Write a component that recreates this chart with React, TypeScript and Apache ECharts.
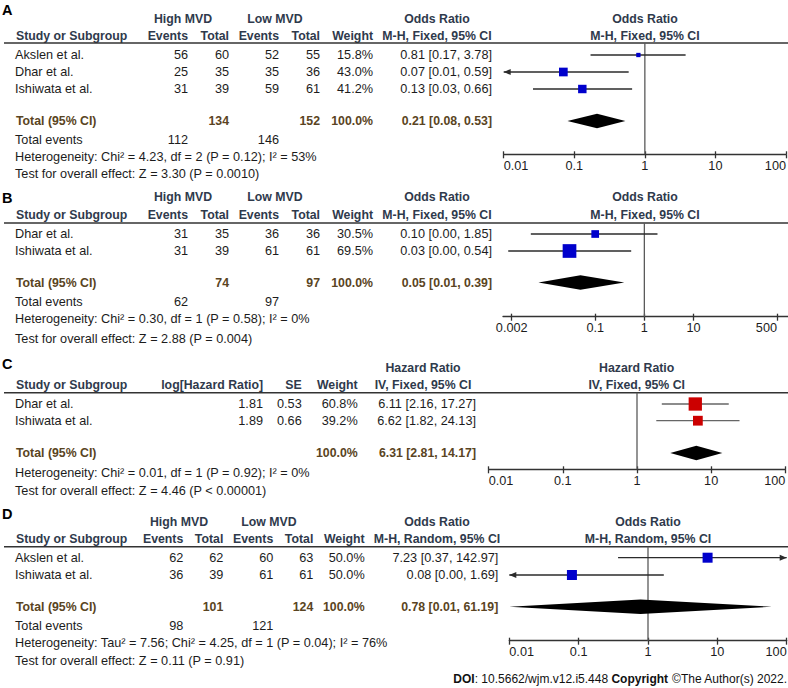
import React, { useEffect, useRef } from "react";
import * as echarts from "echarts";

// ================= DATA =================
// Panel A — Odds Ratio, M-H Fixed
const studiesA = ["Akslen et al.", "Dhar et al.", "Ishiwata et al."];
const highEventsA = [56, 25, 31];
const highTotalA = [60, 35, 39];
const lowEventsA = [52, 35, 59];
const lowTotalA = [55, 36, 61];
const weightA = [15.8, 43.0, 41.2];
const ratioA = [0.81, 0.07, 0.13];
const lowerA = [0.17, 0.008, 0.026];
const upperA = [3.78, 0.59, 0.66];
const pooledA = [0.21, 0.08, 0.53];
const totalsA = [134, 152];
const totalEventsA = [112, 146];
const heterogeneityA = "Heterogeneity: Chi² = 4.23, df = 2 (P = 0.12); I² = 53%";
const overallA = "Test for overall effect: Z = 3.30 (P = 0.0010)";
const ticksA = [0.01, 0.1, 1, 10, 100];

// Panel B — Odds Ratio, M-H Fixed
const studiesB = ["Dhar et al.", "Ishiwata et al."];
const highEventsB = [31, 31];
const highTotalB = [35, 39];
const lowEventsB = [36, 61];
const lowTotalB = [36, 61];
const weightB = [30.5, 69.5];
const ratioB = [0.1, 0.03];
const lowerB = [0.0049, 0.0017];
const upperB = [1.85, 0.54];
const pooledB = [0.05, 0.007, 0.39];
const totalsB = [74, 97];
const totalEventsB = [62, 97];
const heterogeneityB = "Heterogeneity: Chi² = 0.30, df = 1 (P = 0.58); I² = 0%";
const overallB = "Test for overall effect: Z = 2.88 (P = 0.004)";
const ticksB = [0.002, 0.1, 1, 10, 500];

// Panel C — Hazard Ratio, IV Fixed
const studiesC = ["Dhar et al.", "Ishiwata et al."];
const logHrC = [1.81, 1.89];
const seC = [0.53, 0.66];
const weightC = [60.8, 39.2];
const ratioC = [6.11, 6.62];
const lowerC = [2.16, 1.82];
const upperC = [17.27, 24.13];
const pooledC = [6.31, 2.81, 14.17];
const heterogeneityC = "Heterogeneity: Chi² = 0.01, df = 1 (P = 0.92); I² = 0%";
const overallC = "Test for overall effect: Z = 4.46 (P < 0.00001)";
const ticksC = [0.01, 0.1, 1, 10, 100];

// Panel D — Odds Ratio, M-H Random
const studiesD = ["Akslen et al.", "Ishiwata et al."];
const highEventsD = [62, 36];
const highTotalD = [62, 39];
const lowEventsD = [60, 61];
const lowTotalD = [63, 61];
const weightD = [50.0, 50.0];
const ratioD = [7.23, 0.08];
const lowerD = [0.37, 0.004];
const upperD = [142.97, 1.69];
const pooledD = [0.78, 0.01, 61.19];
const totalsD = [101, 124];
const totalEventsD = [98, 121];
const heterogeneityD = "Heterogeneity: Tau² = 7.56; Chi² = 4.25, df = 1 (P = 0.04); I² = 76%";
const overallD = "Test for overall effect: Z = 0.11 (P = 0.91)";
const ticksD = [0.01, 0.1, 1, 10, 100];

// ================= STYLE / LAYOUT =================
const FONT = '"Liberation Sans", Arial, Helvetica, sans-serif';
const TEXT = "#1c1c1c";
const HEAD = "#2f3a4c";
const TOT = "#5a4422";
const FS = 12.7;
const FB = 12.3;

const layoutA: any = {
  letter: "A", letterY: 10, h1Y: 19, h2Y: 36, ruleY: 43, rowY: [55, 72, 89], totalY: 121, eventsY: 140,
  hetY: 157, testY: 174, axisY: 154.3, tickPx: [503.7, 786], lineFrom: 503.7, lineTo: 786,
  cols: [188, 229, 279, 320, 373], ciRight: 492, cHigh: 183, cLow: 275, cCI: 437, cPlot: 645,
  sq: 8.7, sqColor: "#0000cc", ciColor: "#2b2b2b", minAlign: "left",
  measure: "Odds Ratio", method: "M-H, Fixed, 95% CI",
};
const layoutB: any = {
  letter: "B", letterY: 197.5, h1Y: 197, h2Y: 215, ruleY: 223, rowY: [234, 251], totalY: 282.5, eventsY: 302,
  hetY: 319, testY: 338.5, axisY: 316.7, tickPx: [511.7, 777], lineFrom: 503, lineTo: 788,
  cols: [188, 229, 279, 320, 373], ciRight: 492, cHigh: 183, cLow: 275, cCI: 437, cPlot: 645,
  sq: 13.7, sqColor: "#0000cc", ciColor: "#2b2b2b", minAlign: "center",
  measure: "Odds Ratio", method: "M-H, Fixed, 95% CI",
};
const layoutC: any = {
  letter: "C", letterY: 363.5, h1Y: 367.7, h2Y: 385, ruleY: 392.7, rowY: [404, 420.7], totalY: 453,
  hetY: 473, testY: 491, axisY: 469.3, tickPx: [488.7, 785.3], lineFrom: 488.7, lineTo: 785.3,
  cols: [263, 301.7, 357.7], ciRight: 476, cCI: 423, cPlot: 636.7,
  sq: 13.3, sqColor: "#cc0000", ciColor: "#666666", minAlign: "left",
  measure: "Hazard Ratio", method: "IV, Fixed, 95% CI",
};
const layoutD: any = {
  letter: "D", letterY: 513.5, h1Y: 521.7, h2Y: 539, ruleY: 546.7, rowY: [557.7, 575], totalY: 606.7, eventsY: 626,
  hetY: 643.3, testY: 660.7, axisY: 640.7, tickPx: [509.3, 786.7], lineFrom: 509.3, lineTo: 786.7,
  cols: [183.3, 223.3, 273.3, 313.3, 364.7], ciRight: 498.3, cHigh: 179, cLow: 269, cCI: 437, cPlot: 648,
  sq: 10, sqColor: "#0000cc", ciColor: "#2b2b2b", minAlign: "left",
  measure: "Odds Ratio", method: "M-H, Random, 95% CI",
};

const f2 = (v: number) => v.toFixed(2);
const ciText = (r: number, lo: number, hi: number) => `${f2(r)} [${f2(lo)}, ${f2(hi)}]`;
const pct = (w: number) => `${w.toFixed(1)}%`;

function T(x: number, y: number, text: string, align = "left", weight = "normal", color = TEXT, size = FS): any {
  return {
    type: "text", x, y, silent: true,
    style: {
      text, fill: color, fontFamily: FONT, fontSize: size, fontWeight: weight,
      textAlign: align, align, textVerticalAlign: "middle", verticalAlign: "middle",
    },
  };
}
function rule(y: number): any {
  return { type: "line", silent: true, shape: { x1: 4, y1: y, x2: 788, y2: y }, style: { stroke: "#333", lineWidth: 1.5 } };
}

function orPanelText(L: any, d: any): any[] {
  const e: any[] = [];
  e.push(T(2, L.letterY, L.letter, "left", "bold", "#000", 14.5));
  e.push(T(L.cHigh, L.h1Y, "High MVD", "center", "bold", HEAD, FB));
  e.push(T(L.cLow, L.h1Y, "Low MVD", "center", "bold", HEAD, FB));
  e.push(T(L.cCI, L.h1Y, L.measure, "center", "bold", HEAD, FB));
  e.push(T(L.cPlot, L.h1Y, L.measure, "center", "bold", HEAD, FB));
  e.push(T(16, L.h2Y, "Study or Subgroup", "left", "bold", HEAD, FB));
  ["Events", "Total", "Events", "Total", "Weight"].forEach((h, i) => e.push(T(L.cols[i], L.h2Y, h, "right", "bold", HEAD, FB)));
  e.push(T(L.cCI, L.h2Y, L.method, "center", "bold", HEAD, FB));
  e.push(T(L.cPlot, L.h2Y, L.method, "center", "bold", HEAD, FB));
  e.push(rule(L.ruleY));
  d.studies.forEach((s: string, i: number) => {
    const y = L.rowY[i];
    e.push(T(15, y, s));
    e.push(T(L.cols[0], y, String(d.he[i]), "right"));
    e.push(T(L.cols[1], y, String(d.ht[i]), "right"));
    e.push(T(L.cols[2], y, String(d.le[i]), "right"));
    e.push(T(L.cols[3], y, String(d.lt[i]), "right"));
    e.push(T(L.cols[4], y, pct(d.w[i]), "right"));
    e.push(T(L.ciRight, y, ciText(d.r[i], d.lo[i], d.hi[i]), "right"));
  });
  e.push(T(16, L.totalY, "Total (95% CI)", "left", "bold", TOT, FB));
  e.push(T(L.cols[1], L.totalY, String(d.totals[0]), "right", "bold", TOT, FB));
  e.push(T(L.cols[3], L.totalY, String(d.totals[1]), "right", "bold", TOT, FB));
  e.push(T(L.cols[4], L.totalY, "100.0%", "right", "bold", TOT, FB));
  e.push(T(L.ciRight, L.totalY, ciText(d.pooled[0], d.pooled[1], d.pooled[2]), "right", "bold", TOT, FB));
  e.push(T(15, L.eventsY, "Total events"));
  e.push(T(L.cols[0], L.eventsY, String(d.events[0]), "right"));
  e.push(T(L.cols[2], L.eventsY, String(d.events[1]), "right"));
  e.push(T(15, L.hetY, d.het));
  e.push(T(15, L.testY, d.test));
  return e;
}

function hrPanelText(L: any): any[] {
  const e: any[] = [];
  e.push(T(2, L.letterY, L.letter, "left", "bold", "#000", 14.5));
  e.push(T(L.cCI, L.h1Y, L.measure, "center", "bold", HEAD, FB));
  e.push(T(L.cPlot, L.h1Y, L.measure, "center", "bold", HEAD, FB));
  e.push(T(16, L.h2Y, "Study or Subgroup", "left", "bold", HEAD, FB));
  ["log[Hazard Ratio]", "SE", "Weight"].forEach((h, i) => e.push(T(L.cols[i], L.h2Y, h, "right", "bold", HEAD, FB)));
  e.push(T(L.cCI, L.h2Y, L.method, "center", "bold", HEAD, FB));
  e.push(T(L.cPlot, L.h2Y, L.method, "center", "bold", HEAD, FB));
  e.push(rule(L.ruleY));
  studiesC.forEach((s, i) => {
    const y = L.rowY[i];
    e.push(T(15, y, s));
    e.push(T(L.cols[0], y, f2(logHrC[i]), "right"));
    e.push(T(L.cols[1], y, f2(seC[i]), "right"));
    e.push(T(L.cols[2], y, pct(weightC[i]), "right"));
    e.push(T(L.ciRight, y, ciText(ratioC[i], lowerC[i], upperC[i]), "right"));
  });
  e.push(T(16, L.totalY, "Total (95% CI)", "left", "bold", TOT, FB));
  e.push(T(L.cols[2], L.totalY, "100.0%", "right", "bold", TOT, FB));
  e.push(T(L.ciRight, L.totalY, ciText(pooledC[0], pooledC[1], pooledC[2]), "right", "bold", TOT, FB));
  e.push(T(15, L.hetY, heterogeneityC));
  e.push(T(15, L.testY, overallC));
  return e;
}

function axisRange(L: any, ticks: number[]) {
  const l0 = Math.log10(ticks[0]);
  const l1 = Math.log10(ticks[ticks.length - 1]);
  const dec = (L.tickPx[1] - L.tickPx[0]) / (l1 - l0);
  return {
    min: Math.pow(10, l0 - (L.tickPx[0] - L.lineFrom) / dec),
    max: Math.pow(10, l1 + (L.lineTo - L.tickPx[1]) / dec),
  };
}

function studyRenderer(L: any, aMin: number, aMax: number, maxW: number) {
  return (params: any, api: any) => {
    const r = api.value(0), lo = api.value(1), hi = api.value(2), y = api.value(3), w = api.value(4);
    const a = api.coord([Math.max(lo, aMin), y]);
    const b = api.coord([Math.min(hi, aMax), y]);
    const c = api.coord([r, y]);
    const s = L.sq * Math.pow(w / maxW, 0.7);
    const ch: any[] = [
      { type: "line", shape: { x1: a[0], y1: a[1], x2: b[0], y2: b[1] }, style: { stroke: L.ciColor, lineWidth: 1.3 } },
    ];
    if (lo < aMin) ch.push({ type: "polygon", shape: { points: [[a[0], a[1]], [a[0] + 7, a[1] - 3], [a[0] + 7, a[1] + 3]] }, style: { fill: L.ciColor } });
    if (hi > aMax) ch.push({ type: "polygon", shape: { points: [[b[0], b[1]], [b[0] - 7, b[1] - 3], [b[0] - 7, b[1] + 3]] }, style: { fill: L.ciColor } });
    ch.push({ type: "rect", shape: { x: c[0] - s / 2, y: c[1] - s / 2, width: s, height: s }, style: { fill: L.sqColor } });
    return { type: "group", children: ch };
  };
}
function diamondRenderer() {
  return (params: any, api: any) => {
    const y = api.value(3);
    const c = api.coord([api.value(0), y]);
    const a = api.coord([api.value(1), y]);
    const b = api.coord([api.value(2), y]);
    const h = 7.3;
    return {
      type: "polygon",
      shape: { points: [[a[0], a[1]], [c[0], c[1] - h], [b[0], b[1]], [c[0], c[1] + h]] },
      style: { fill: "#000" },
    };
  };
}

const tickFmt = (v: number) => String(Number(Number(v).toPrecision(4)));

export default function App() {
  const ref = useRef<HTMLDivElement>(null);
  useEffect(() => {
    if (!ref.current) return;
    const chart = echarts.init(ref.current, undefined, { renderer: "svg" });

    const panels = [
      { L: layoutA, ticks: ticksA, r: ratioA, lo: lowerA, hi: upperA, w: weightA, pooled: pooledA },
      { L: layoutB, ticks: ticksB, r: ratioB, lo: lowerB, hi: upperB, w: weightB, pooled: pooledB },
      { L: layoutC, ticks: ticksC, r: ratioC, lo: lowerC, hi: upperC, w: weightC, pooled: pooledC },
      { L: layoutD, ticks: ticksD, r: ratioD, lo: lowerD, hi: upperD, w: weightD, pooled: pooledD },
    ];

    const grid: any[] = [];
    const xAxis: any[] = [];
    const yAxis: any[] = [];
    const series: any[] = [];

    panels.forEach((p, i) => {
      const L = p.L;
      const H = L.axisY - L.ruleY;
      const { min, max } = axisRange(L, p.ticks);
      grid.push({ left: L.lineFrom, top: L.ruleY, width: L.lineTo - L.lineFrom, height: H, containLabel: false, outerBoundsMode: "none" });
      const base = {
        gridIndex: i, type: "log", logBase: 10, min, max, position: "bottom", offset: 0,
        splitLine: { show: false }, minorTick: { show: false }, minorSplitLine: { show: false },
      };
      xAxis.push({
        ...base,
        axisLine: { show: true, onZero: false, lineStyle: { color: "#333", width: 1.3 } },
        axisTick: { show: true, inside: false, length: 4, customValues: p.ticks, lineStyle: { color: "#333", width: 1.3 } },
        axisLabel: {
          show: true, customValues: p.ticks, formatter: tickFmt, margin: 5, color: TEXT, fontSize: FS, fontFamily: FONT,
          alignMinLabel: L.minAlign, alignMaxLabel: "right", hideOverlap: false, showMinLabel: true, showMaxLabel: true,
        },
      });
      xAxis.push({
        ...base,
        axisLine: { show: false, onZero: false },
        axisTick: { show: true, inside: true, length: 3, customValues: p.ticks, lineStyle: { color: "#333", width: 1.3 } },
        axisLabel: { show: false },
      });
      yAxis.push({ gridIndex: i, type: "value", min: 0, max: H, inverse: true, show: false });

      const maxW = Math.max(...p.w);
      series.push({
        type: "line", xAxisIndex: 2 * i, yAxisIndex: i, data: [[1, 0], [1, H]], symbol: "none", silent: true, z: 1,
        lineStyle: { color: "#5a5a5a", width: 1.3 },
      });
      series.push({
        type: "custom", xAxisIndex: 2 * i, yAxisIndex: i, z: 3, silent: true, clip: false,
        encode: { x: 0, y: 3 },
        renderItem: studyRenderer(L, min, max, maxW),
        data: p.r.map((r: number, k: number) => [r, p.lo[k], p.hi[k], L.rowY[k] - L.ruleY, p.w[k]]),
      });
      series.push({
        type: "custom", xAxisIndex: 2 * i, yAxisIndex: i, z: 3, silent: true, clip: false,
        encode: { x: 0, y: 3 },
        renderItem: diamondRenderer(),
        data: [[p.pooled[0], p.pooled[1], p.pooled[2], L.totalY - L.ruleY]],
      });
    });

    const graphics: any[] = [
      ...orPanelText(layoutA, {
        studies: studiesA, he: highEventsA, ht: highTotalA, le: lowEventsA, lt: lowTotalA, w: weightA,
        r: ratioA, lo: lowerA, hi: upperA, pooled: pooledA, totals: totalsA, events: totalEventsA,
        het: heterogeneityA, test: overallA,
      }),
      ...orPanelText(layoutB, {
        studies: studiesB, he: highEventsB, ht: highTotalB, le: lowEventsB, lt: lowTotalB, w: weightB,
        r: ratioB, lo: lowerB, hi: upperB, pooled: pooledB, totals: totalsB, events: totalEventsB,
        het: heterogeneityB, test: overallB,
      }),
      ...hrPanelText(layoutC),
      ...orPanelText(layoutD, {
        studies: studiesD, he: highEventsD, ht: highTotalD, le: lowEventsD, lt: lowTotalD, w: weightD,
        r: ratioD, lo: lowerD, hi: upperD, pooled: pooledD, totals: totalsD, events: totalEventsD,
        het: heterogeneityD, test: overallD,
      }),
      {
        type: "text", x: 787, y: 679.3, silent: true,
        style: {
          text: "{b|DOI}: 10.5662/wjm.v12.i5.448 {b|Copyright} ©The Author(s) 2022.",
          fill: "#111", fontFamily: FONT, fontSize: 12,
          textAlign: "right", align: "right", textVerticalAlign: "middle", verticalAlign: "middle",
          rich: { b: { fontWeight: "bold", fontFamily: FONT, fontSize: 12, fill: "#111" } },
        },
      },
    ];

    chart.setOption({
      animation: false,
      backgroundColor: "#ffffff",
      grid, xAxis, yAxis, series,
      graphic: graphics,
    });
    return () => chart.dispose();
  }, []);

  return <div ref={ref} style={{ position: "absolute", left: 0, top: 0, width: 788, height: 688, background: "#fff" }} />;
}
